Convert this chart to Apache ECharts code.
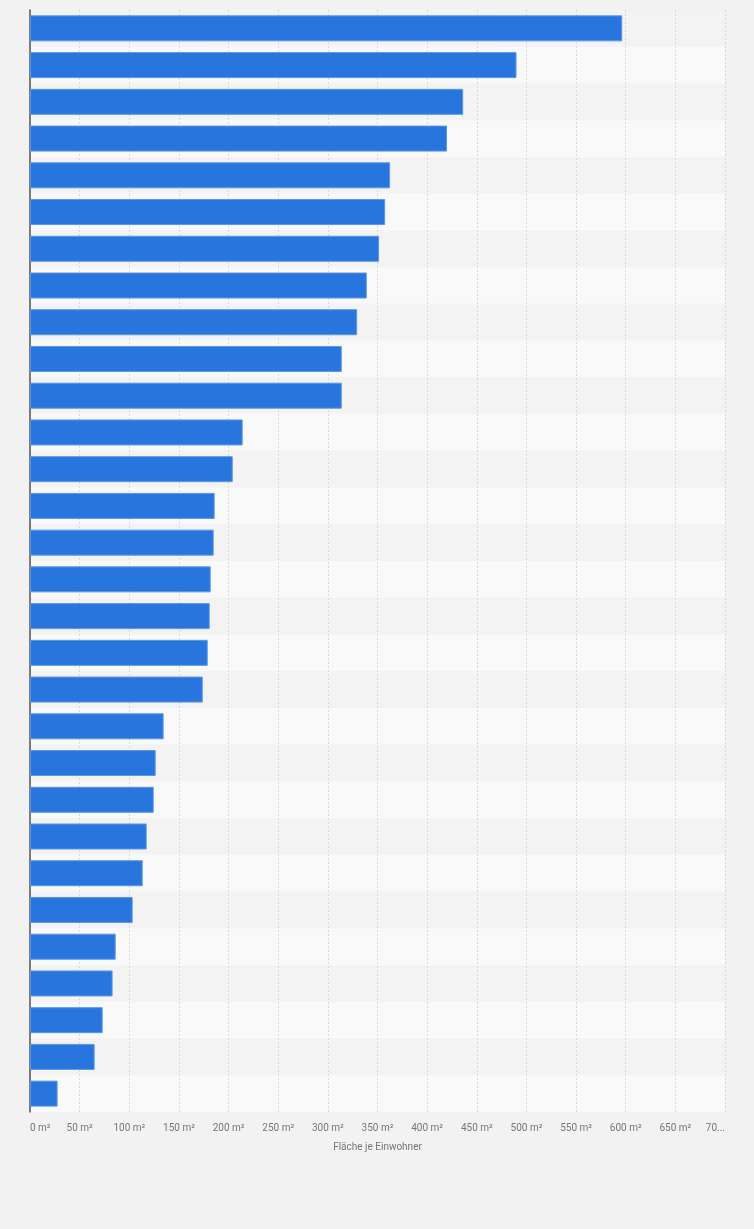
<!DOCTYPE html>
<html>
<head>
<meta charset="utf-8">
<script src="https://cdn.jsdelivr.net/npm/echarts@6/dist/echarts.min.js"></script>
<style>
	html, body {margin: 0; padding: 0; background: #f2f2f2;}
	#chart {width: 754px; height: 1229px;}
</style>
</head>
<body>
<div id="chart"></div>
<script>
// Kategorien (im Bild ohne Beschriftung)
var categories = ['1', '2', '3', '4', '5', '6', '7', '8', '9', '10',
	'11', '12', '13', '14', '15', '16', '17', '18', '19', '20',
	'21', '22', '23', '24', '25', '26', '27', '28', '29', '30'];
// Fläche je Einwohner in m²
var values = [596.5, 490, 436.3, 420, 362.7, 357.7, 351.6, 339.2, 329.5, 314,
	314, 214.2, 204.2, 186, 185, 182, 181, 179, 174, 134.6,
	126.6, 124.6, 117.5, 113.5, 103.4, 86.3, 83.2, 73.2, 65.1, 27.8];
var xTickLabels = ['0 m²', '50 m²', '100 m²', '150 m²', '200 m²', '250 m²', '300 m²',
	'350 m²', '400 m²', '450 m²', '500 m²', '550 m²', '600 m²', '650 m²', '70...'];

var xx = echarts.init(document.getElementById('chart'));
xx.setOption({
	backgroundColor: '#f2f2f2',
	animation: false,
	grid: {
		left: 30,
		right: 29,
		top: 10,
		bottom: 117
	},
	xAxis: {
		type: 'value',
		min: 0,
		max: 700,
		interval: 50,
		name: 'Fläche je Einwohner',
		nameLocation: 'middle',
		nameGap: 30,
		nameTextStyle: {
			color: '#777',
			fontSize: 10,
			fontFamily: 'Roboto'
		},
		axisLine: {show: false},
		axisTick: {show: false},
		axisLabel: {
			color: '#777',
			fontSize: 10,
			fontFamily: 'Roboto',
			margin: 11,
			alignMinLabel: 'left',
			alignMaxLabel: 'right',
			formatter: function(v) {
				return xTickLabels[Math.round(v / 50)];
			}
		},
		splitLine: {
			show: true,
			lineStyle: {
				color: '#d9d9d9',
				type: [2, 2],
				width: 1
			}
		}
	},
	yAxis: {
		type: 'category',
		data: categories,
		inverse: true,
		axisTick: {show: false},
		axisLabel: {show: false},
		axisLine: {
			show: true,
			lineStyle: {
				color: '#555',
				width: 1.5
			}
		},
		splitArea: {
			show: true,
			areaStyle: {
				color: ['#f3f3f3', '#f9f9f9']
			}
		}
	},
	series: [{
		type: 'bar',
		data: values,
		barWidth: 26,
		itemStyle: {
			color: '#2876dd',
			borderColor: '#5a97e6',
			borderWidth: 1
		}
	}]
});
</script>
</body>
</html>
